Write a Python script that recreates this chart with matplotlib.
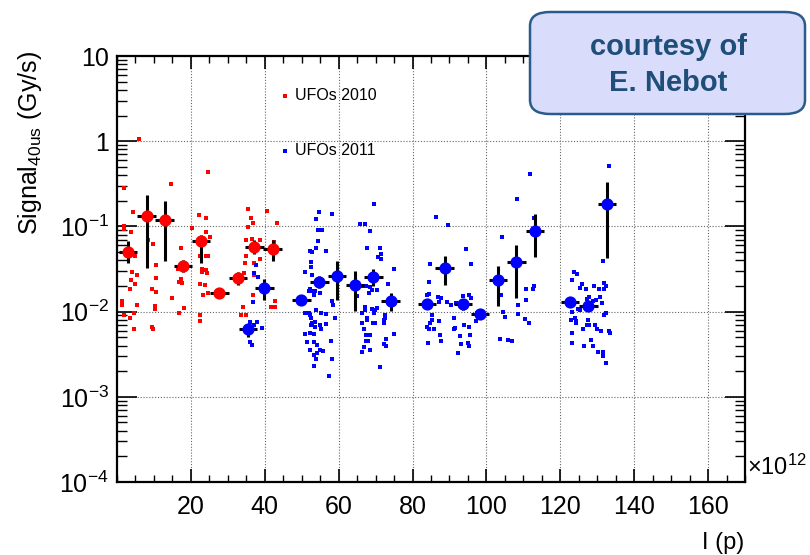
import numpy as np
import matplotlib
matplotlib.use("Agg")
import matplotlib.pyplot as plt
from matplotlib.patches import FancyBboxPatch
from matplotlib.ticker import FixedLocator, FixedFormatter, MultipleLocator, LogLocator, NullFormatter

plt.rcParams['font.family'] = ['Liberation Sans', 'DejaVu Sans']
plt.rcParams['mathtext.fontset'] = 'custom'
plt.rcParams['mathtext.rm'] = 'Liberation Sans'
plt.rcParams['mathtext.it'] = 'Liberation Sans'

# ---------------- data (x in 1e12 p, y as log10 of Gy/s) ----------------
red_x = [5.9, 1.9, 14.5, 24.6, 4.3, 1.9, 1.9, 3.7, 8.5, 9.7, 5.0, 4.0, 5.3, 3.7, 4.9, 3.4, 10.6, 10.6, 9.5, 10.6,
         1.4, 1.4, 5.3, 10.2, 10.2, 1.9, 3.4, 4.6, 4.6, 9.6, 9.8, 14.8, 17.2, 17.2, 16.8, 17.5, 16.5, 18.1, 16.9,
         22.2, 24.2, 20.4, 24.0, 25.1, 22.6, 24.2, 24.7, 22.9, 24.1, 22.9, 24.4, 22.4, 23.8, 24.7, 23.3, 22.4, 22.4,
         35.5, 36.4, 36.8, 35.4, 40.5, 43.2, 36.6, 35.0, 38.8, 42.6, 35.0, 34.6, 37.0, 38.6, 34.3, 37.0, 36.8,
         34.1, 33.7, 35.0, 41.7, 42.9, 42.9]
red_logy = [0.03, -0.554, -0.503, -0.359, -0.834, -1.0, -1.03, -1.06, -1.165, -1.21, -1.345, -1.54, -1.575, -1.63,
            -1.68, -1.74, -1.45, -1.605, -1.74, -1.77, -1.88, -1.92, -1.92, -1.93, -1.97, -2.04, -2.07, -2.02, -2.21,
            -2.18, -2.21, -1.84, -1.25, -1.62, -1.65, -1.66, -1.50, -1.96, -2.02, -0.866, -0.904, -1.02, -1.07,
            -1.13, -1.35, -1.345, -1.345, -1.50, -1.51, -1.53, -1.55, -1.68, -1.69, -1.78, -1.81, -2.04, -2.11,
            -0.80, -0.904, -0.955, -1.01, -0.823, -0.955, -1.146, -1.158, -1.165, -1.185, -1.345, -1.43, -1.43,
            -1.38, -1.55, -1.57, -1.81, -1.95, -2.04, -2.04, -1.95, -1.95, -1.88]

blue_x = [37.6, 38.1, 37.2, 36.8, 36.1, 37.8, 37.0, 39.3, 34.8, 36.1, 36.6,
          54.6, 58.3, 54.0, 54.3, 55.5, 54.3, 54.0, 56.5, 52.2, 52.8, 52.5, 52.5, 50.8, 52.8, 52.3, 51.9, 52.8,
          53.5, 53.2, 54.9, 58.2, 58.6, 51.0, 51.9, 52.3, 53.9, 55.2, 56.7, 52.5, 52.8, 53.7, 52.4, 53.5, 55.0,
          55.2, 56.7, 58.9, 51.0, 52.3, 53.2, 51.4, 53.4, 54.1, 52.3, 54.9, 55.8, 53.2, 54.1, 54.0, 58.0, 58.2,
          53.4, 57.3,
          69.5, 65.7, 67.0, 68.5, 67.6, 71.3, 71.4, 70.6, 71.5, 74.9, 66.6, 67.5, 68.5, 68.1, 69.0, 70.4, 73.3,
          65.0, 67.2, 67.0, 69.0, 69.9, 69.5, 70.5, 72.6, 72.6, 66.3, 66.3, 67.8, 67.8, 72.2, 72.4, 69.3, 69.9,
          66.8, 67.4, 68.5, 67.9, 67.5, 72.8, 74.9, 72.3, 72.9, 66.9, 68.5, 66.3, 71.3,
          86.4, 89.5, 94.4, 84.8, 95.9, 84.5, 83.9, 84.5, 86.8, 87.6, 87.2, 89.3, 90.4, 91.7, 93.6, 95.3, 95.7,
          97.4, 85.4, 85.2, 84.8, 87.3, 83.9, 85.9, 84.5, 87.4, 87.6, 84.1, 91.2, 91.5, 91.1, 93.8, 95.4, 92.9,
          95.6, 93.0, 94.9, 95.3, 92.4, 97.2,
          111.9, 108.4, 112.9, 104.3, 103.9, 108.5, 110.7, 113.0, 112.7, 110.6, 104.6, 104.9, 108.5, 110.5,
          111.4, 103.7, 105.8, 107.0,
          133.2, 131.6, 123.7, 124.6, 123.3, 126.0, 131.9, 132.3, 131.7, 125.3, 126.9, 129.2, 130.5, 127.8,
          127.3, 130.7, 129.6, 128.9, 131.4, 124.7, 125.2, 123.3, 132.3, 131.9, 122.8, 124.0, 124.3, 124.3,
          127.4, 127.1, 127.8, 126.2, 129.5, 130.0, 131.0, 133.1, 133.4, 123.3, 128.4, 123.1, 126.5, 128.8,
          130.3, 131.6, 131.6, 132.3]
blue_logy = [-1.45, -1.59, -1.55, -1.89, -2.12, -2.12, -2.16, -2.19, -2.19, -2.36, -2.39,
             -0.826, -0.85, -0.916, -1.04, -1.04, -1.17, -1.255, -1.29, -1.29, -1.30, -1.42, -1.48, -1.54, -1.57,
             -1.73, -1.76, -1.76, -1.76, -1.81, -1.78, -1.88, -1.92, -2.02, -2.02, -2.04, -1.98, -2.02, -2.03,
             -2.08, -2.13, -2.12, -2.16, -2.18, -2.16, -2.20, -2.14, -2.08, -2.26, -2.25, -2.26, -2.36, -2.36,
             -2.39, -2.45, -2.45, -2.46, -2.51, -2.49, -2.56, -2.34, -2.56, -2.64, -2.76,
             -0.74, -0.97, -0.97, -1.05, -1.25, -1.25, -1.32, -1.36, -1.38, -1.50, -1.70, -1.70, -1.71, -1.78,
             -1.75, -1.75, -1.68, -1.82, -1.95, -1.98, -1.97, -1.98, -2.02, -1.96, -2.04, -2.07, -2.02, -2.13,
             -2.08, -2.10, -2.10, -2.13, -2.13, -2.13, -2.21, -2.27, -2.27, -2.35, -2.35, -2.32, -2.26, -2.38,
             -2.40, -2.41, -2.45, -2.48, -2.65,
             -0.89, -0.98, -1.26, -1.44, -1.44, -1.65, -1.80, -1.79, -1.83, -1.84, -1.89, -1.89, -1.92, -1.90,
             -1.82, -1.80, -1.84, -2.02, -2.04, -2.10, -2.13, -2.11, -2.18, -2.21, -2.21, -2.27, -2.35, -2.37,
             -2.08, -2.19, -2.20, -2.16, -2.18, -2.29, -2.28, -2.38, -2.37, -2.40, -2.49, -2.11,
             -0.38, -0.68, -0.90, -1.13, -1.80, -1.92, -1.74, -1.70, -1.74, -1.86, -2.00, -2.06, -2.03, -2.09,
             -2.13, -2.32, -2.33, -2.35,
             -0.29, -1.41, -1.53, -1.56, -1.63, -1.68, -1.67, -1.70, -1.74, -1.72, -1.74, -1.70, -1.74, -1.83,
             -1.85, -1.83, -1.86, -1.88, -1.90, -1.97, -1.98, -2.00, -2.02, -2.04, -2.10, -2.08, -2.11, -2.13,
             -2.10, -2.16, -2.16, -2.21, -2.16, -2.20, -2.23, -2.23, -2.25, -2.25, -2.33, -2.37, -2.40, -2.40,
             -2.48, -2.48, -2.52, -2.60]

# binned means with error bars (y, low edge, high edge in Gy/s)
red_mx = [3.0, 8.0, 12.9, 17.8, 22.7, 27.7, 32.8, 37.2, 42.1]
red_my = [0.050, 0.134, 0.118, 0.0346, 0.0665, 0.0166, 0.0248, 0.0566, 0.0537]
red_lo = [0.0372, 0.0324, 0.0389, 0.0288, 0.0372, 0.0155, 0.0204, 0.0468, 0.0389]
red_hi = [0.0676, 0.233, 0.200, 0.0407, 0.0794, 0.0178, 0.0295, 0.0684, 0.0692]

blue_mx = [35.5, 39.9, 49.9, 54.8, 59.5, 64.4, 69.4, 74.1, 83.9, 88.7, 93.7, 98.3, 103.1, 108.1, 113.1,
           122.6, 127.6, 132.6]
blue_my = [0.00618, 0.019, 0.0137, 0.0225, 0.0262, 0.0207, 0.0255, 0.0134, 0.0124, 0.0325, 0.0123, 0.00925,
           0.0233, 0.0382, 0.0887, 0.0130, 0.0115, 0.1815]
blue_lo = [0.0051, 0.0135, 0.0125, 0.019, 0.0138, 0.0101, 0.0200, 0.0101, 0.0110, 0.0204, 0.0105, 0.0085,
           0.0117, 0.0145, 0.0434, 0.0118, 0.0106, 0.0425]
blue_hi = [0.0072, 0.0244, 0.0150, 0.0263, 0.0389, 0.0302, 0.0316, 0.0166, 0.0140, 0.0452, 0.0142, 0.0100,
           0.0347, 0.0602, 0.139, 0.0143, 0.0125, 0.328]
bin_half_width = 2.5

y_tick_vals = [1e-4, 1e-3, 1e-2, 1e-1, 1, 10]
y_tick_labels = [r'$10^{-4}$', r'$10^{-3}$', r'$10^{-2}$', r'$10^{-1}$', '1', '10']
x_tick_vals = [20, 40, 60, 80, 100, 120, 140, 160]

# ---------------- figure ----------------
fig = plt.figure(figsize=(8.10, 5.55), dpi=100)
ax = fig.add_axes([117/810, 1-482/555, (745-117)/810, (482-56)/555])

ax.set_yscale('log')
ax.set_xlim(0, 170)
ax.set_ylim(1e-4, 10)

ax.plot(red_x, 10**np.array(red_logy), ls='none', marker='s', ms=2.7, color='#ff0000', mew=0)
ax.plot(blue_x, 10**np.array(blue_logy), ls='none', marker='s', ms=2.7, color='#0000ff', mew=0)

def draw_means(mx, my, lo, hi, col):
    my = np.array(my)
    yerr = [my - np.array(lo), np.array(hi) - my]
    ax.errorbar(mx, my, yerr=yerr, xerr=bin_half_width, fmt='o', color=col, ms=8.8, mew=0,
                ecolor='black', elinewidth=2.2, capsize=0, zorder=5)

draw_means(red_mx, red_my, red_lo, red_hi, '#ff0000')
draw_means(blue_mx, blue_my, blue_lo, blue_hi, '#0000ff')

# grid
ax.grid(True, which='major', ls=(0, (1, 1.6)), color='#666666', lw=0.8)
ax.set_axisbelow(True)

# ticks
ax.xaxis.set_major_locator(FixedLocator(x_tick_vals))
ax.xaxis.set_minor_locator(MultipleLocator(5))
ax.yaxis.set_major_locator(FixedLocator(y_tick_vals))
ax.yaxis.set_major_formatter(FixedFormatter(y_tick_labels))
ax.yaxis.set_minor_locator(LogLocator(base=10, subs=np.arange(2, 10)))
ax.yaxis.set_minor_formatter(NullFormatter())
ax.tick_params(axis='both', which='both', direction='in', top=True, right=True, color='black')
ax.tick_params(axis='x', which='major', length=9.5, width=1.2, labelsize=18, pad=9)
ax.tick_params(axis='x', which='minor', length=5, width=1.0)
ax.tick_params(axis='y', which='major', length=14.5, width=1.2, labelsize=18, pad=6)
ax.tick_params(axis='y', which='minor', length=7, width=1.0)
for sp in ax.spines.values():
    sp.set_linewidth(1.6)

# axis labels
fig.text(30/810, 1-143/555, r'Signal$_{\mathregular{40us}}$ (Gy/s)', rotation=90, fontsize=18,
         ha='center', va='center')
fig.text(723/810, 1-543/555, 'I (p)', fontsize=17, ha='center', va='center')
fig.text(747/810, 1-467/555, r'$\times$10$^{12}$', fontsize=17, ha='left', va='center')

# legend entries
ax.plot([0.267], [0.9065], transform=ax.transAxes, marker='s', ms=2.7, color='#ff0000', mew=0, ls='none')
ax.text(0.284, 0.9065, 'UFOs 2010', transform=ax.transAxes, fontsize=11.5, va='center', ha='left')
ax.plot([0.267], [0.778], transform=ax.transAxes, marker='s', ms=2.7, color='#0000ff', mew=0, ls='none')
ax.text(0.284, 0.778, 'UFOs 2011', transform=ax.transAxes, fontsize=11.5, va='center', ha='left')

# courtesy box
box = FancyBboxPatch((530/810, 1-114/555), (805-530)/810, (114-12)/555,
                     boxstyle='round,pad=0,rounding_size=0.025', transform=fig.transFigure,
                     facecolor='#d9ddfb', edgecolor='#2b5a8c', linewidth=1.8, zorder=10)
fig.patches.append(box)
fig.text(668/810, 1-47/555, 'courtesy of', fontsize=21, fontweight='bold', color='#1f4e79',
         ha='center', va='center', zorder=11)
fig.text(668/810, 1-83/555, 'E. Nebot', fontsize=21, fontweight='bold', color='#1f4e79',
         ha='center', va='center', zorder=11)

fig.savefig('out.png', dpi=100)
